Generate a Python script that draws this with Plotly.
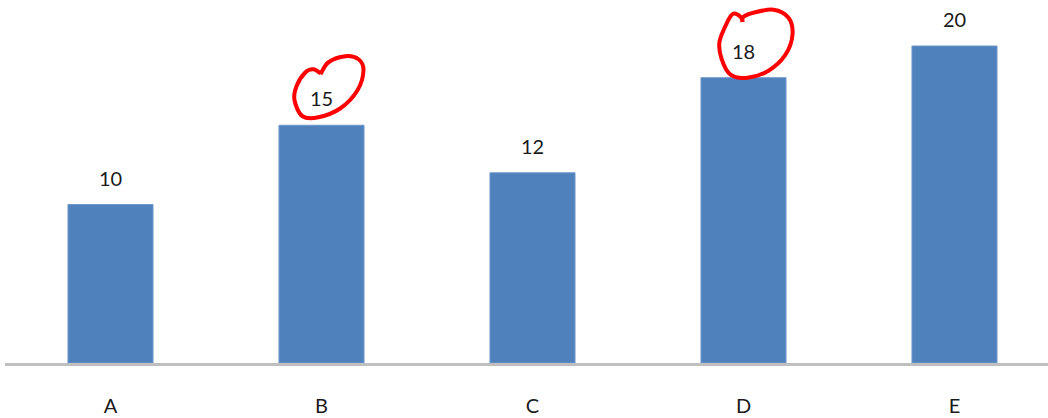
import plotly.graph_objects as go

categories = ["A", "B", "C", "D", "E"]
values = [10, 15, 12, 18, 20]
highlighted = ["B", "D"]

BAR_COLOR = "#4F81BD"
FONT = "Lato"

# freehand loops drawn around highlighted labels (pixel offsets from the label centre, y up)
loops = {
    "B": [(-1, 25), (7, 37), (24, 43), (37, 40), (42, 29), (36, 9), (19, -9), (-3, -18),
          (-19, -17), (-27, -1), (-25, 13), (-16, 27), (-8, 30), (-1, 26)],
    "D": [(-1, 30), (0, 35), (10, 39), (30, 42), (45, 34), (49, 17), (42, -3), (25, -19),
          (4, -26), (-13, -23), (-22, -7), (-24, 10), (-16, 30), (-10, 38), (-3, 35), (-1, 30)],
}


def smooth_path(pts):
    d = f"M {pts[0][0]},{pts[0][1]}"
    n = len(pts)
    for i in range(n - 1):
        p0 = pts[i - 1] if i > 0 else pts[i]
        p1 = pts[i]
        p2 = pts[i + 1]
        p3 = pts[i + 2] if i + 2 < n else pts[i + 1]
        c1 = (p1[0] + (p2[0] - p0[0]) / 6, p1[1] + (p2[1] - p0[1]) / 6)
        c2 = (p2[0] - (p3[0] - p1[0]) / 6, p2[1] - (p3[1] - p1[1]) / 6)
        d += f" C {c1[0]:.1f},{c1[1]:.1f} {c2[0]:.1f},{c2[1]:.1f} {p2[0]},{p2[1]}"
    return d


fig = go.Figure(go.Bar(x=categories, y=values, marker=dict(color=BAR_COLOR,
                line=dict(color="#6F97C9", width=1)), hoverinfo="skip"))

LABEL_SHIFT = 13
for c, v in zip(categories, values):
    fig.add_annotation(x=c, y=v, text=str(v), showarrow=False, yanchor="bottom",
                       yshift=LABEL_SHIFT, font=dict(family=FONT, size=20, color="#1a1a1a"))

for c, v in zip(categories, values):
    if c in highlighted:
        fig.add_shape(type="path", xref="x", yref="y", xsizemode="pixel", ysizemode="pixel",
                      xanchor=c, yanchor=v, path=smooth_path([(x, y + 26) for x, y in loops[c]]),
                      line=dict(color="#FF0000", width=4))

fig.update_layout(
    width=1048, height=418,
    margin=dict(l=5, r=0, t=0, b=55),
    paper_bgcolor="white", plot_bgcolor="white",
    bargap=0.597, showlegend=False,
    xaxis=dict(range=[-0.5, -0.5 + 1043 / 211], showgrid=False, zeroline=False,
               showline=True, linecolor="#BFBFBF", linewidth=3, ticks="", automargin=False,
               ticklabelstandoff=23, tickfont=dict(family=FONT, size=20, color="#1a1a1a")),
    yaxis=dict(range=[0, 363 / 15.85], visible=False, showgrid=False, zeroline=False,
               automargin=False),
)

fig.write_html("out.html")
